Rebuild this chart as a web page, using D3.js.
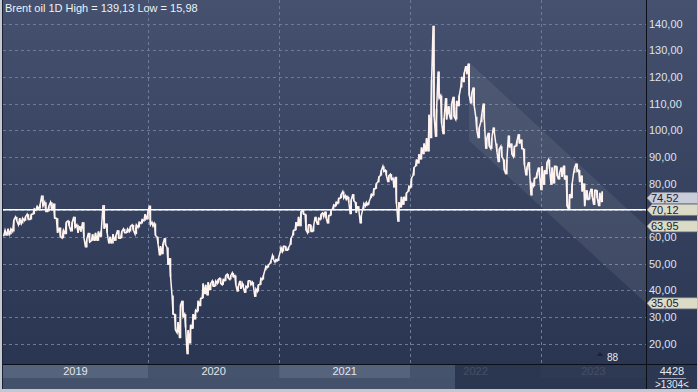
<!DOCTYPE html>
<html>
<head>
<meta charset="utf-8">
<script src="https://cdn.jsdelivr.net/npm/d3@7"></script>
<style>
  html, body { margin: 0; padding: 0; background: #c4c8d0; }
  svg { display: block; font-family: "Liberation Sans", Arial, sans-serif; }
</style>
</head>
<body>
<div id="chart"></div>
<script>
const W = 698, H = 392,
    plotLeft = 3, plotRight = 646, plotTop = 0, plotBottom = 364,
    stripMid = 378, stripBottom = 389;

// weekly bars, first week ends 18 Jan 2019
const firstWeek = new Date(2019, 0, 18);
const weekLows = [
  // 2019
  60.5,60.5,60.5,61,62,66,64.5,65,66,66.5,66.5,68.5,70,70.5,71.5,69.5,69.5,70,67,61.5,60,59.5,61,64,62,63.5,61.5,62,60,56,58,58.5,58.5,58.5,60,63,61.5,57.5,57.5,58.5,59.5,59.5,61.5,61.5,62,62.5,61,63.5,65,66,
  // 2020
  66.5,64.5,64,60.5,57.5,53,53.5,57,49.5,45,31,25,24,22,30,26,15.98,20,25.5,29,32,34,37,38.5,38,40,41.5,41.5,42.5,42.5,42,43.5,44.5,44,45,42,39.5,40.5,41,39,41,42,41.5,37.5,39.5,42,44,47.5,48.5,50,51.5,50.5,
  // 2021
  51,54,54.5,55,55,57,60.5,62.5,64,64,68.5,62.5,61.5,62,62,66,64.5,66.5,67.5,67,65,68,70.5,71.5,72.5,74.5,74.5,74,73,68.5,73.5,69,70,65,70.5,71.5,72,74.5,75.5,78,80.5,83,84.5,83,80.5,81.5,78.5,72.5,65.7,71,72,73.5,77,
  // 2022
  78.5,83,86.5,87.5,89,91,92,92,97,105,97.5,112,102.5,98.5,104,106,104,105,104,109,116,118,121,113,110,109,100,97,103,104,93,94,93,99,92,88,90,85,83.5,93.5,91,90,94,95,93,87,83,85,75.5,79,82,83,
  // 2023
  77.5,79.5,83.5,85.5,79.5,80,83,81.5,82.5,81.5,71.5,70.12,74.5,84,84.5,80.5,77,71.5,74,74,75,72,74.5,71.5,73
];
const weekHighs = [
  // 2019
  62.8,62.5,63,63,66.3,67.5,67,67,67.5,68.5,68.5,70.5,71.5,72,75.5,73,71.5,73,72.5,67,63.5,62.5,65.5,66,65.5,67.5,64.5,64,65.5,59,61.5,61,61.5,62,62.5,71.9,65,60,61,60.5,62.5,62,63,63,64,64.5,64.5,65.5,66.5,68.5,
  // 2020
  69.5,71.7,65.5,65,60,56.5,57.5,59.5,56,52,38,31,28,34.5,36,31,25,27,31,32.5,36,37,42.5,42,43,42.5,43.5,43.5,44,44.5,44,45.5,46,45.5,46.5,45.5,41.5,43.5,42.5,41.5,43.5,43.5,43,40.5,42,44.5,45.5,49,49.5,51,53,51.5,
  // 2021
  52,56,56.5,56.5,56,59.5,62.5,65.5,67.5,69.5,70,68.5,64.5,64.5,64,67.5,67,68.5,69,69.5,68,70,72,73,74.5,76,77,75.5,75,74,76,73,71.5,68,72.5,73,73,76,78,80,82.5,85,86.5,85,83,83.5,82,82.5,73,75,75,76.5,79,
  // 2022
  82,86,89,91,93.5,95,97,105.8,119,139.13,108,122,113,104.5,112,109,110,112.5,111,113,120,121.5,124,125,114,116,105,101,106,110,97,99,97,101,95,93,94,89,89,98,95,94,96,98.5,96.5,93,86,88,80,82,84,86,
  // 2023
  86.5,85,88,89,86,86.5,86.5,84,86,86.7,83,76,80,86,87.5,85,83,80,77.5,76.5,78,77.5,77.5,76.5,77
];

const yTicks = [20, 30, 40, 50, 60, 70, 80, 90, 100, 110, 120, 130, 140];
// 70,00 sits under the 70,12 tag in the original
const yLabels = [20, 30, 40, 50, 60, 80, 90, 100, 110, 120, 130, 140];
const yearTicks = [2019, 2020, 2021, 2022, 2023];

// support line and falling channel
const supportValue = 70.12;
const channelStart = new Date(2022, 5, 14);
const channelUpper = [125.5, 63.95];
const channelLower = [96.1, 35.05];

// price tags on the right scale
const tagValues = [74.52, 70.12, 63.95, 35.05];
const tagKinds = ["last", "line", "line", "line"];

const title = "Brent oil 1D High = 139,13 Low = 15,98";

const bars = weekLows.map((lo, i) => ({
  date: d3.timeDay.offset(firstWeek, 7 * i), low: lo, high: weekHighs[i]
}));

// walk each week low->high or high->low, so the trace zigzags like daily bars
const trace = [];
bars.forEach((b, i) => {
  const next = bars[i + 1];
  const up = next ? (next.low + next.high) > (b.low + b.high) : true;
  const first = up ? b.low : b.high, second = up ? b.high : b.low;
  trace.push({date: d3.timeDay.offset(b.date, -5), v: first});
  trace.push({date: d3.timeDay.offset(b.date, -2), v: second});
});

const comma = d3.formatLocale({decimal: ",", thousands: ".", grouping: [3], currency: ["", ""]}).format(".2f");

const x = d3.scaleTime()
  .domain([firstWeek, new Date(2020, 0, 1), new Date(2023, 0, 1)])
  .range([plotLeft, 148, 541]);

const y = d3.scaleLinear()
  .domain([20, 140])
  .range([343.5, 23.5]);

const svg = d3.select("#chart").append("svg")
  .attr("width", W).attr("height", H);

const defs = svg.append("defs");
const grad = defs.append("linearGradient").attr("id", "bg").attr("x1", 0).attr("y1", 0).attr("x2", 0).attr("y2", 1);
grad.append("stop").attr("offset", "0%").attr("stop-color", "#45516e");
grad.append("stop").attr("offset", "100%").attr("stop-color", "#2a3552");
defs.append("clipPath").attr("id", "plotclip").append("rect")
  .attr("x", plotLeft).attr("y", plotTop).attr("width", plotRight - plotLeft).attr("height", plotBottom - plotTop);

// background
svg.append("rect").attr("x", 0).attr("y", 0).attr("width", W).attr("height", H).attr("fill", "#c4c8d0");
svg.append("rect").attr("x", 2).attr("y", 0).attr("width", W - 3).attr("height", plotBottom).attr("fill", "url(#bg)");

// grid
const grid = svg.append("g").attr("stroke", "#6e7b98").attr("stroke-dasharray", "3,3").attr("stroke-width", 1);
grid.selectAll("line.h").data(yTicks).enter().append("line")
  .attr("x1", plotLeft).attr("x2", plotRight)
  .attr("y1", d => Math.round(y(d)) + 0.5).attr("y2", d => Math.round(y(d)) + 0.5);
grid.selectAll("line.v").data(yearTicks.slice(1)).enter().append("line")
  .attr("y1", plotTop).attr("y2", plotBottom)
  .attr("x1", d => Math.round(x(new Date(d, 0, 1))) + 0.5)
  .attr("x2", d => Math.round(x(new Date(d, 0, 1))) + 0.5);

// channel
const plot = svg.append("g").attr("clip-path", "url(#plotclip)");
const channelEnd = x.invert(plotRight);
plot.append("path")
  .attr("d", d3.line()([
    [x(channelStart), y(channelUpper[0])],
    [x(channelEnd), y(channelUpper[1])],
    [x(channelEnd), y(channelLower[1])],
    [x(channelStart), y(channelLower[0])]
  ]) + "Z")
  .attr("fill", "#ffffff").attr("fill-opacity", 0.075);

// price
plot.append("g").selectAll("line").data(bars).enter().append("line")
  .attr("x1", d => x(d.date) - 0.8).attr("x2", d => x(d.date) - 0.8)
  .attr("y1", d => y(d.low)).attr("y2", d => y(d.high))
  .attr("stroke", "#fff3f0").attr("stroke-width", 1.6);
plot.append("path")
  .datum(trace)
  .attr("d", d3.line().x(d => x(d.date)).y(d => y(d.v)))
  .attr("fill", "none")
  .attr("stroke", "#fff3f0")
  .attr("stroke-width", 1.5)
  .attr("stroke-linejoin", "miter");

// support line
plot.append("line")
  .attr("x1", plotLeft).attr("x2", plotRight)
  .attr("y1", y(supportValue)).attr("y2", y(supportValue))
  .attr("stroke", "#ffffff").attr("stroke-width", 1.5);

// right axis labels
svg.append("g").selectAll("text").data(yLabels).enter().append("text")
  .attr("x", 649).attr("y", d => y(d) + 4)
  .attr("fill", "#dfe3ec").style("font-size", "11px")
  .text(d => comma(d));

// price tags
const tags = svg.append("g").selectAll("g").data(tagValues).enter().append("g")
  .attr("transform", d => "translate(0," + y(d) + ")");
tags.append("path")
  .attr("d", "M647,0 L652,-5.5 L698,-5.5 L698,5.5 L652,5.5 Z")
  .attr("fill", (d, i) => tagKinds[i] === "last" ? "#c9ccd9" : "#dcdcc6")
  .attr("stroke", "#8d92a0").attr("stroke-width", 0.6);
tags.append("text")
  .attr("x", 651).attr("y", 4)
  .attr("fill", "#1a2132").style("font-size", "11px")
  .text(d => comma(d));

// bottom year strip
const yearStarts = yearTicks.map(yr => Math.max(plotLeft, x(new Date(yr, 0, 1))));
const yearEnds = yearTicks.map((yr, i) => i < yearTicks.length - 1 ? yearStarts[i + 1] : plotRight);
svg.append("rect").attr("x", 2).attr("y", plotBottom).attr("width", plotRight - 2).attr("height", stripBottom - plotBottom).attr("fill", "#44516b");
svg.append("g").selectAll("rect").data(yearTicks).enter().append("rect")
  .attr("x", (d, i) => yearStarts[i]).attr("y", plotBottom)
  .attr("width", (d, i) => yearEnds[i] - yearStarts[i]).attr("height", stripMid - plotBottom)
  .attr("fill", (d, i) => i % 2 === 0 ? "#56637d" : "#46536d");
svg.append("g").selectAll("text").data(yearTicks).enter().append("text")
  .attr("x", (d, i) => (yearStarts[i] + yearEnds[i]) / 2).attr("y", plotBottom + 10.5)
  .attr("text-anchor", "middle").attr("fill", "#e3e7ef").style("font-size", "11px")
  .text(d => d);
// scroll window shade
const scrollStart = 455;
svg.append("rect").attr("x", scrollStart).attr("y", plotBottom).attr("width", plotRight - scrollStart)
  .attr("height", stripBottom - plotBottom).attr("fill", "#27324c").attr("fill-opacity", 0.85);

// bottom right box
svg.append("rect").attr("x", plotRight).attr("y", plotBottom).attr("width", W - plotRight - 1).attr("height", stripBottom - plotBottom).attr("fill", "#2c3752");
svg.append("text").attr("x", 672).attr("y", 375).attr("text-anchor", "middle").attr("fill", "#e6e9f0").style("font-size", "11px").text("4428");
svg.append("line").attr("x1", 658).attr("x2", 686).attr("y1", 378.5).attr("y2", 378.5).attr("stroke", "#9aa2b4");
svg.append("text").attr("x", 672).attr("y", 388).attr("text-anchor", "middle").attr("fill", "#e6e9f0").style("font-size", "10px").text(">1304<");

// frame lines
svg.append("line").attr("x1", plotRight + 0.5).attr("x2", plotRight + 0.5).attr("y1", 0).attr("y2", stripBottom).attr("stroke", "#0c0f17");
svg.append("line").attr("x1", 2).attr("x2", W - 1).attr("y1", plotBottom + 0.5).attr("y2", plotBottom + 0.5).attr("stroke", "#0c0f17");
svg.append("line").attr("x1", 2.5).attr("x2", 2.5).attr("y1", 0).attr("y2", stripBottom).attr("stroke", "#1a2236");

// bar counter
svg.append("path").attr("d", "M600,352 L603.5,356 L596.5,356 Z").attr("fill", "#1d2436");
svg.append("text").attr("x", 607).attr("y", 361).attr("fill", "#e6e9f0").style("font-size", "10px").text("88");

// title
svg.append("text").attr("x", 5).attr("y", 12).attr("fill", "#eef1f6").style("font-size", "11px").text(title);
</script>
</body>
</html>
